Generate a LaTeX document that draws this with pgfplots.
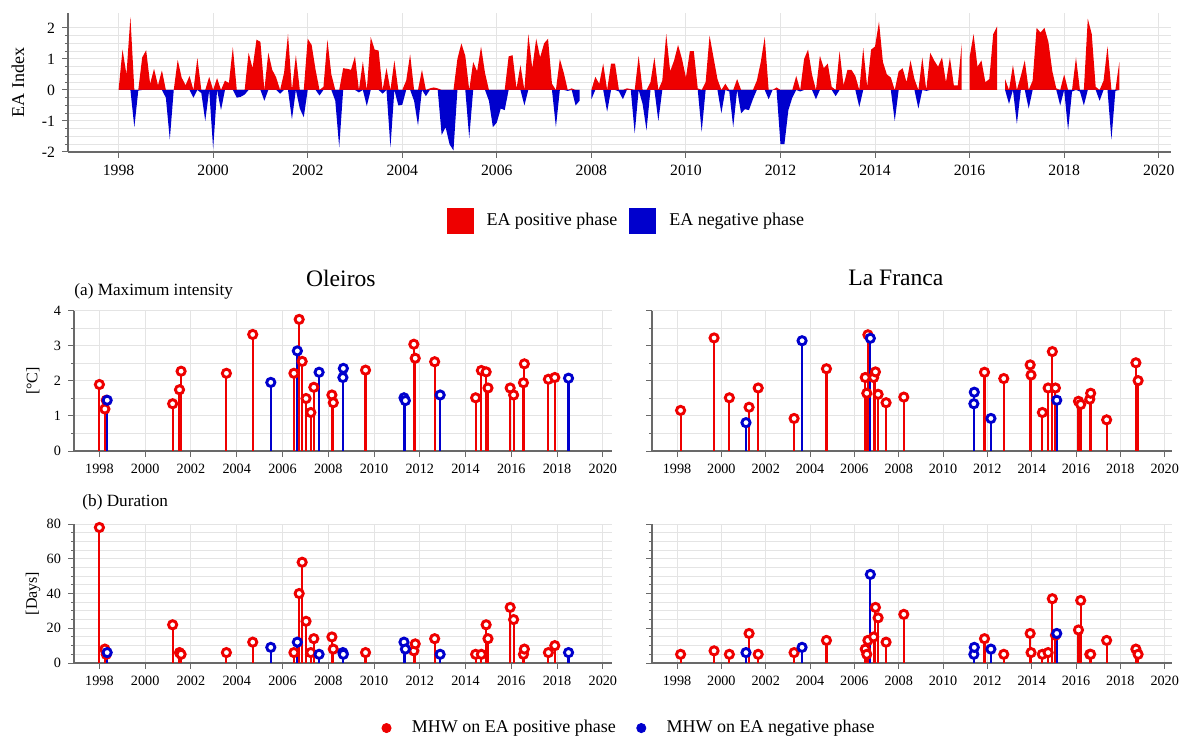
\documentclass[border=0pt]{standalone}
\usepackage{pgfplots}
\pgfplotsset{compat=1.18}
\usepackage{pgfplotstable}
\usepackage{fontspec}
\setmainfont{Liberation Serif}

\definecolor{eared}{RGB}{238,0,0}
\definecolor{eablue}{RGB}{0,0,205}
\definecolor{gridc}{RGB}{228,228,228}
\definecolor{axc}{RGB}{105,105,105}

% EA index, monthly, segment 1: Jan 1998 - Oct 2007
\pgfplotstableread[row sep=\\]{
v\\
0.0\\ 1.3\\ 0.5\\ 2.35\\ -1.2\\ -0.02\\ 1.05\\ 1.28\\ 0.2\\ 0.68\\ 0.15\\ 0.63\\
-0.25\\ -1.6\\ 0.0\\ 0.97\\ 0.4\\ 0.15\\ 0.45\\ -0.25\\ 1.03\\ -0.1\\ -1.0\\ 0.42\\
-1.9\\ 0.38\\ -0.65\\ 0.3\\ 0.22\\ 1.38\\ -0.25\\ -0.22\\ -0.15\\ 1.2\\ 0.7\\ 1.62\\
1.55\\ -0.35\\ 1.2\\ 0.65\\ 0.4\\ -0.12\\ 0.55\\ 1.8\\ -0.95\\ 1.12\\ -0.6\\ -0.88\\
1.65\\ 1.45\\ 0.65\\ -0.18\\ 0.1\\ 1.62\\ 0.5\\ -0.35\\ -1.85\\ 0.7\\ 0.68\\ 0.65\\
1.08\\ -0.08\\ 0.92\\ -0.52\\ 1.7\\ 1.3\\ 1.27\\ -0.12\\ 0.7\\ -1.85\\ 0.95\\ -0.5\\
-0.48\\ 0.3\\ 1.15\\ -0.35\\ -1.15\\ 0.65\\ -0.2\\ 0.05\\ 0.08\\ 0.05\\ -1.45\\ -1.2\\
-1.75\\ -1.95\\ 1.0\\ 1.5\\ 1.1\\ -1.55\\ 0.9\\ 0.6\\ 1.4\\ 0.55\\ -0.35\\ -1.2\\
-1.05\\ -0.6\\ -0.65\\ 1.08\\ 1.12\\ 0.05\\ 0.8\\ -0.5\\ 1.8\\ 0.7\\ 1.65\\ 1.05\\
1.5\\ 1.65\\ 0.2\\ -1.2\\ 1.0\\ 0.55\\ -0.03\\ 0.05\\ -0.5\\ -0.35\\
}\segA
% segment 2: Jan 2008 - Nov 2015
\pgfplotstableread[row sep=\\]{
v\\
-0.3\\ 0.42\\ 0.2\\ 0.85\\ -0.7\\ 0.85\\ 0.85\\ -0.05\\ -0.3\\ 0.05\\ 0.03\\ -1.4\\
1.1\\ -0.45\\ -1.3\\ 0.25\\ 1.05\\ -1.0\\ 0.3\\ 1.8\\ 0.6\\ 0.95\\ 1.45\\ 1.0\\
0.4\\ 1.25\\ 1.25\\ 0.05\\ -1.35\\ 0.25\\ 1.75\\ 1.05\\ 0.35\\ -0.75\\ 0.2\\ -0.05\\
-1.2\\ 0.35\\ -0.75\\ -0.62\\ -0.65\\ -0.3\\ 0.3\\ 0.9\\ 1.7\\ -0.3\\ 0.0\\ 0.08\\
-1.75\\ -1.75\\ -0.65\\ -0.25\\ 0.45\\ -0.05\\ 1.0\\ 1.3\\ 0.5\\ -0.3\\ 1.1\\ 0.7\\
0.85\\ 0.1\\ -0.2\\ 1.25\\ 0.15\\ 0.65\\ 0.65\\ 0.45\\ -0.55\\ 1.35\\ 0.1\\ 1.3\\
1.4\\ 2.2\\ 0.9\\ 0.5\\ 0.4\\ -1.0\\ 0.6\\ 0.7\\ 0.25\\ 0.95\\ 0.35\\ -0.6\\
1.05\\ -0.03\\ 1.2\\ 0.95\\ 0.75\\ 1.05\\ 0.25\\ 1.05\\ 0.15\\ 0.15\\ 1.5\\
}\segB
% segment 3: Jan 2016 - Aug 2016
\pgfplotstableread[row sep=\\]{
v\\
1.05\\ 1.8\\ 0.75\\ 0.95\\ 0.25\\ 0.35\\ 1.8\\ 2.05\\
}\segC
% segment 4: Oct 2016 - Mar 2019
\pgfplotstableread[row sep=\\]{
v\\
0.35\\ -0.45\\ 0.8\\
-1.1\\ 0.45\\ 0.95\\ -0.6\\ 0.3\\ 2.0\\ 1.85\\ 2.0\\ 1.55\\ 0.6\\ 0.05\\ -0.5\\
0.5\\ -1.3\\ -0.05\\ 1.05\\ -0.05\\ -0.5\\ 2.3\\ 1.8\\ 0.1\\ -0.35\\ 0.3\\ 1.4\\
-1.6\\ -0.03\\ 0.9\\
}\segD

\pgfplotsset{
  basestyle/.style={
    scale only axis,
    axis x line*=bottom, axis y line*=left,
    axis line style={-, draw=axc, line width=0.6pt},
    tick style={draw=axc, line width=0.5pt},
    major tick length=3pt, minor tick length=1.6pt,
    tick align=outside,
    grid=both,
    major grid style={draw=gridc, line width=0.5pt},
    minor grid style={draw=gridc, line width=0.45pt},
    xtick={1998,2000,...,2020}, minor x tick num=1,
    /pgf/number format/1000 sep={},
    /pgf/number format/assume math mode=true,
    scaled ticks=false,
    tick label style={font=\fontsize{7.1}{8}\selectfont},
    ylabel style={font=\fontsize{8}{9}\selectfont, anchor=center},
  },
  stemr/.style={ycomb, draw=eared, line width=1.05pt, forget plot,
    mark=*, mark size=2.05pt, mark options={fill=white, draw=eared, line width=1.45pt, solid}},
  stemb/.style={ycomb, draw=eablue, line width=1.05pt, forget plot,
    mark=*, mark size=2.05pt, mark options={fill=white, draw=eablue, line width=1.45pt, solid}},
  posarea/.style={fill=eared, draw=none, forget plot},
  negarea/.style={fill=eablue, draw=none, forget plot},
}

\begin{document}
\begin{tikzpicture}
\useasboundingbox (0,0) rectangle (593.5pt,-371pt);

% ---------------- EA index ----------------
\begin{axis}[basestyle,
  at={(34pt,-76pt)}, anchor=south west,
  width=551.5pt, height=69.5pt,
  xmin=1996.93, xmax=2020.26, ymin=-2, ymax=2.48,
  ytick={-2,-1,0,1,2}, minor y tick num=3,
  tick label style={font=\fontsize{7.85}{9}\selectfont},
  ylabel={EA Index},
  ylabel style={font=\fontsize{9}{10}\selectfont, at={(axis description cs:-0.0453,0.5)}},
  legend style={at={(axis description cs:0.5054,-0.496)}, anchor=center, draw=none, fill=none,
    legend columns=2, font=\fontsize{9}{10}\selectfont, nodes={inner sep=0pt},
    /tikz/every odd column/.append style={column sep=6.5pt},
    /tikz/every even column/.append style={column sep=6pt}},
  legend cell align=left,
]
\addplot[posarea] table[x index=0, y index=0, x expr={1998+\coordindex/12}, y expr={max(\thisrow{v},0)}] {\segA} \closedcycle;
\addplot[posarea] table[x index=0, y index=0, x expr={2008+\coordindex/12}, y expr={max(\thisrow{v},0)}] {\segB} \closedcycle;
\addplot[posarea] table[x index=0, y index=0, x expr={2016+\coordindex/12}, y expr={max(\thisrow{v},0)}] {\segC} \closedcycle;
\addplot[posarea] table[x index=0, y index=0, x expr={2016.75+\coordindex/12}, y expr={max(\thisrow{v},0)}] {\segD} \closedcycle;
\addplot[negarea] table[x index=0, y index=0, x expr={1998+\coordindex/12}, y expr={min(\thisrow{v},0)}] {\segA} \closedcycle;
\addplot[negarea] table[x index=0, y index=0, x expr={2008+\coordindex/12}, y expr={min(\thisrow{v},0)}] {\segB} \closedcycle;
\addplot[negarea] table[x index=0, y index=0, x expr={2016.75+\coordindex/12}, y expr={min(\thisrow{v},0)}] {\segD} \closedcycle;
\addlegendimage{legend image code/.code={\fill[eared] (0pt,-6.25pt) rectangle (13pt,6.25pt);}}
\addlegendentry{EA positive phase}
\addlegendimage{legend image code/.code={\fill[eablue] (0pt,-6.25pt) rectangle (13pt,6.25pt);}}
\addlegendentry{EA negative phase}
\end{axis}

% ---------------- Oleiros (a) ----------------
\begin{axis}[basestyle,
  at={(37pt,-225.5pt)}, anchor=south west,
  width=269pt, height=70pt,
  xmin=1996.89, xmax=2020.4, ymin=0, ymax=4,
  ytick={0,1,2,3,4}, minor y tick num=1,
  ylabel={[°C]},
  ylabel style={at={(axis description cs:-0.0762,0.5)}},
  extra description/.code={
    \node[font=\fontsize{11.8}{13}\selectfont] at (axis description cs:0.496,1.236) {Oleiros};
    \node[font=\fontsize{8.6}{10}\selectfont, anchor=west, inner sep=0pt] at (axis description cs:0,1.143) {(a) Maximum intensity};
  },
]
\addplot[stemr] coordinates {
(1998.00,1.90) (1998.24,1.20) (1998.30,1.45) (2001.20,1.35) (2001.50,1.75) (2001.57,2.28)
(2003.55,2.22) (2004.70,3.33) (2006.50,2.22) (2006.73,3.76) (2006.86,2.56) (2007.03,1.50)
(2007.24,1.10) (2007.37,1.82) (2008.16,1.60) (2008.22,1.38) (2009.63,2.31) (2011.74,3.05)
(2011.80,2.65) (2012.65,2.55) (2014.44,1.52) (2014.69,2.30) (2014.90,2.26) (2014.98,1.80)
(2015.95,1.80) (2016.10,1.60) (2016.53,1.95) (2016.57,2.49) (2017.62,2.05) (2017.90,2.10)
};
\addplot[stemb] coordinates {
(1998.34,1.45) (2005.49,1.96) (2006.65,2.86) (2007.60,2.25) (2008.64,2.10) (2008.66,2.36)
(2011.31,1.52) (2011.37,1.44) (2012.89,1.60) (2018.50,2.08)
};
\end{axis}

% ---------------- La Franca (a) ----------------
\begin{axis}[basestyle,
  at={(326pt,-225.5pt)}, anchor=south west,
  width=260pt, height=70pt,
  xmin=1996.87, xmax=2020.33, ymin=0, ymax=4,
  ytick={0,1,2,3,4}, minor y tick num=1, yticklabels={},
  extra description/.code={
    \node[font=\fontsize{11.8}{13}\selectfont] at (axis description cs:0.469,1.236) {La Franca};
  },
]
\addplot[stemr] coordinates {
(1998.16,1.16) (1999.67,3.23) (2000.36,1.52) (2001.25,1.25) (2001.66,1.80) (2003.28,0.93)
(2004.74,2.35) (2006.49,2.10) (2006.56,1.65) (2006.61,3.32) (2006.87,2.10) (2006.95,2.26)
(2007.07,1.62) (2007.43,1.38) (2008.23,1.54) (2011.87,2.25) (2012.74,2.07) (2013.93,2.46)
(2013.97,2.17) (2014.48,1.10) (2014.74,1.80) (2014.93,2.84) (2015.07,1.80) (2016.11,1.42)
(2016.21,1.33) (2016.62,1.48) (2016.66,1.65) (2017.38,0.89) (2018.70,2.52) (2018.80,2.01)
};
\addplot[stemb] coordinates {
(2001.11,0.81) (2003.64,3.15) (2006.72,3.22) (2011.39,1.35) (2011.41,1.68) (2012.16,0.93)
(2015.13,1.45)
};
\end{axis}

% ---------------- Oleiros (b) ----------------
\begin{axis}[basestyle,
  at={(37pt,-331.5pt)}, anchor=south west,
  width=269pt, height=69.5pt,
  xmin=1996.89, xmax=2020.4, ymin=0, ymax=80,
  ytick={0,20,40,60,80}, minor y tick num=3,
  ylabel={[Days]},
  ylabel style={at={(axis description cs:-0.0762,0.5)}},
  extra description/.code={
    \node[font=\fontsize{8.6}{10}\selectfont, anchor=west, inner sep=0pt] at (axis description cs:0.015,1.158) {(b) Duration};
  },
]
\addplot[stemr] coordinates {
(1998.00,78) (1998.24,8) (1998.30,5) (2001.20,22) (2001.50,6) (2001.57,5)
(2003.55,6) (2004.70,12) (2006.50,6) (2006.73,40) (2006.86,58) (2007.03,24)
(2007.24,6) (2007.37,14) (2008.16,15) (2008.22,8) (2009.63,6) (2011.74,7)
(2011.80,11) (2012.65,14) (2014.44,5) (2014.69,5) (2014.90,22) (2014.98,14)
(2015.95,32) (2016.10,25) (2016.53,5) (2016.57,8) (2017.62,6) (2017.90,10)
};
\addplot[stemb] coordinates {
(1998.34,6) (2005.49,9) (2006.65,12) (2007.60,5) (2008.64,6) (2008.66,5)
(2011.31,12) (2011.37,8) (2012.89,5) (2018.50,6)
};
\end{axis}

% ---------------- La Franca (b) ----------------
\begin{axis}[basestyle,
  at={(326pt,-331.5pt)}, anchor=south west,
  width=260pt, height=69.5pt,
  xmin=1996.87, xmax=2020.33, ymin=0, ymax=80,
  ytick={0,20,40,60,80}, minor y tick num=3, yticklabels={},
  legend style={at={(axis description cs:-0.046,-0.468)}, anchor=center, draw=none, fill=none,
    legend columns=2, font=\fontsize{9}{10}\selectfont, nodes={inner sep=0pt},
    /tikz/every odd column/.append style={column sep=10.2pt},
    /tikz/every even column/.append style={column sep=10.2pt}},
  legend cell align=left,
]
\addplot[stemr] coordinates {
(1998.16,5) (1999.67,7) (2000.36,5) (2001.25,17) (2001.66,5) (2003.28,6)
(2004.74,13) (2006.49,8) (2006.56,5) (2006.61,13) (2006.87,15) (2006.95,32)
(2007.07,26) (2007.43,12) (2008.23,28) (2011.87,14) (2012.74,5) (2013.93,17)
(2013.97,6) (2014.48,5) (2014.74,6) (2014.93,37) (2015.07,16) (2016.11,19)
(2016.21,36) (2016.62,5) (2016.66,5) (2017.38,13) (2018.70,8) (2018.80,5)
};
\addplot[stemb] coordinates {
(2001.11,6) (2003.64,9) (2006.72,51) (2011.39,5) (2011.41,9) (2012.16,8)
(2015.13,17)
};
\addlegendimage{legend image code/.code={\fill[eared] (0pt,0pt) circle (2.3pt);}}
\addlegendentry{MHW on EA positive phase}
\addlegendimage{legend image code/.code={\fill[eablue] (0pt,0pt) circle (2.3pt);}}
\addlegendentry{MHW on EA negative phase}
\end{axis}
\end{tikzpicture}
\end{document}
